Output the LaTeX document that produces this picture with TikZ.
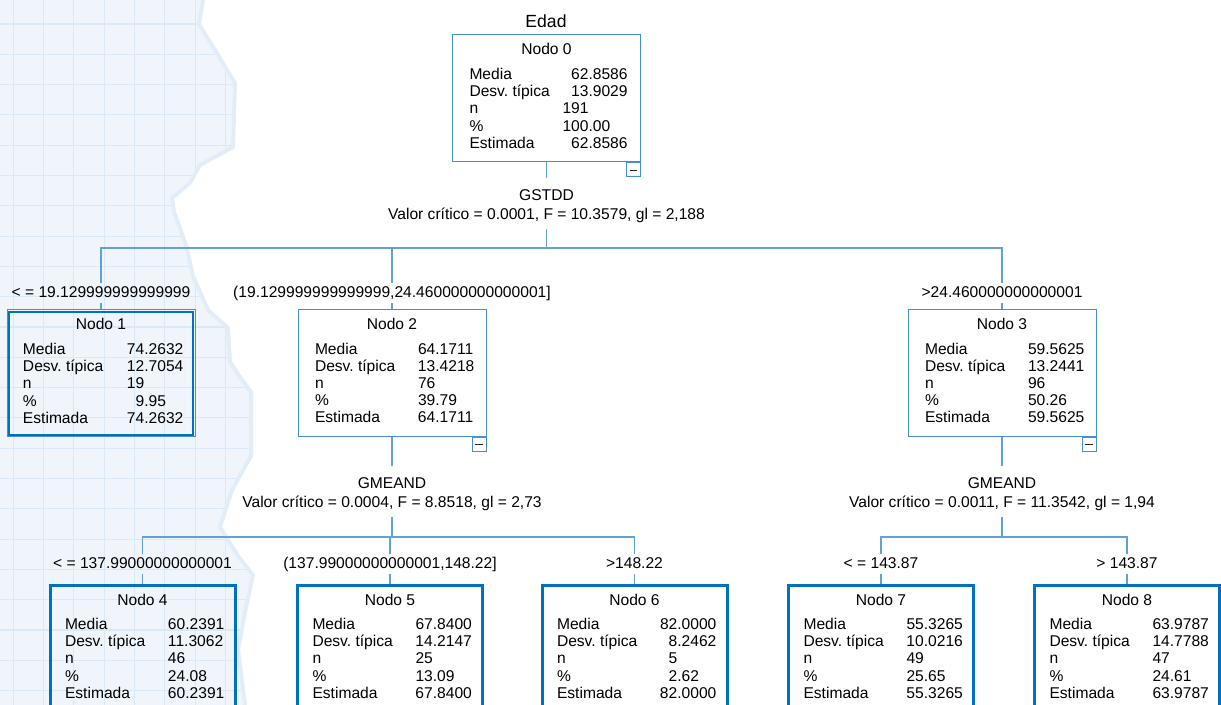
\documentclass[tikz,border=0pt]{standalone}
\usepackage{fontspec}
\setmainfont{Liberation Sans}
\definecolor{nodeblue}{RGB}{70,143,212}
\definecolor{leafblue}{RGB}{0,112,192}
\definecolor{linkblue}{RGB}{98,160,216}
\definecolor{paper}{RGB}{240,245,251}
\definecolor{gridblue}{RGB}{219,232,246}
\definecolor{edgeblue}{RGB}{227,237,248}
% box text: width, margin, title, value column, five values
\newcommand{\nodetext}[9]{\parbox[t][95.25pt][t]{#1}{%
  {\centering\rule{0pt}{15pt}#3\par}\vspace{5.5pt}%
  \noindent\hspace*{#2}\begin{tabular}[t]{@{}p{#4}@{}l@{}}
  Media & #5\\ Desv.\ típica & #6\\ n & #7\\ \% & #8\\ Estimada & #9
  \end{tabular}}}

\begin{document}
\begin{tikzpicture}[
  x=0.75pt,y=-0.75pt,
  font=\fontsize{11.7}{12.9}\selectfont,
  nodo/.style={draw=nodeblue,line width=0.75pt,anchor=north,inner sep=0pt},
  hoja/.style={draw=leafblue,line width=2.25pt,anchor=north,inner sep=0pt},
  minus/.style={draw=nodeblue,line width=0.75pt,anchor=north east,inner sep=0pt,
                minimum width=10.5pt,minimum height=10.5pt,
                path picture={\draw[line width=0.7pt,black!85]
                  ([xshift=2.5pt]path picture bounding box.west) --
                  ([xshift=-2.5pt]path picture bounding box.east);}},
  split/.style={anchor=north,align=center,inner sep=4.5pt},
  lbl/.style={anchor=base,inner xsep=1pt,inner ysep=2.5pt,text height=8.4pt,text depth=1pt},
  conn/.style={draw=linkblue,line width=1.1pt},
  tornedge/.style={insert path={-- (203,0) -- (199,24) -- (235,83) -- (233,147) -- (200,165)
    -- (190,183) -- (172,198) -- (174,212) -- (186,245) -- (193,276) -- (208,310)
    -- (228,328) -- (230,362) -- (240,377) -- (251,392) -- (251,456) -- (232,490)
    -- (220,527) -- (238,556) -- (253,575) -- (245,612) -- (238,650) -- (245,705)}}
]
\useasboundingbox (0,0) rectangle (1221,705);

% paper with grid on the left
\begin{scope}
  \clip (0,0) [tornedge] -- (0,705) -- cycle;
  \fill[paper] (0,0) rectangle (270,705);
  \foreach \i in {0,...,8}
    \draw[gridblue,line width=0.8pt] (13.3+30.3*\i,0) -- (13.3+30.3*\i,705);
  \foreach \j in {0,...,22}
    \draw[gridblue,line width=0.8pt] (0,24+30.3*\j) -- (270,24+30.3*\j);
\end{scope}
\draw[edgeblue,line width=3pt,line join=round] (203,0) [tornedge];

% root
\node[font=\fontsize{13.2}{15}\selectfont,anchor=base] (tit) at (546,28) {Edad};
\node[nodo] (n0) at (546.5,34.5) {\nodetext{141pt}{12.75pt}{Nodo 0}{69.75pt}%
  {\phantom{0}62.8586}{\phantom{0}13.9029}{191}{100.00}{\phantom{0}62.8586}};
\node[minus] (m0) at (n0.south east) {};
\node[split] (sp0) at (546.5,183.7) {GSTDD\\[1.35pt]Valor crítico = 0.0001, F = 10.3579, gl = 2,188};
\coordinate (b0) at (546.5,248);

% first split
\node[lbl] (e1) at (101,298) {< = 19.129999999999999};
\node[lbl] (e2) at (392,298) {(19.129999999999999,24.460000000000001]};
\node[lbl] (e3) at (1002,298) {>24.460000000000001};
\node[nodo] (n1) at (101,309.5) {\nodetext{141pt}{12pt}{Nodo 1}{78pt}%
  {74.2632}{12.7054}{19}{\phantom{0}9.95}{74.2632}};
\draw[leafblue,line width=1.5pt] ([shift={(2.5,2.5)}]n1.north west) rectangle ([shift={(-2.5,-2.5)}]n1.south east);
\node[nodo] (n2) at (392,309) {\nodetext{141pt}{12.75pt}{Nodo 2}{77.25pt}%
  {64.1711}{13.4218}{76}{39.79}{64.1711}};
\node[minus] (m2) at (n2.south east) {};
\node[nodo] (n3) at (1002,309) {\nodetext{141pt}{12.75pt}{Nodo 3}{77.25pt}%
  {59.5625}{13.2441}{96}{50.26}{59.5625}};
\node[minus] (m3) at (n3.south east) {};

\node[split] (sp2) at (392,471.7) {GMEAND\\[1.35pt]Valor crítico = 0.0004, F = 8.8518, gl = 2,73};
\node[split] (sp3) at (1002,471.7) {GMEAND\\[1.35pt]Valor crítico = 0.0011, F = 11.3542, gl = 1,94};
\coordinate (b2) at (392,537);
\coordinate (b3) at (1002,537);

% second split
\node[lbl] (e4) at (142.5,569) {< = 137.99000000000001};
\node[lbl] (e5) at (390,569) {(137.99000000000001,148.22]};
\node[lbl] (e6) at (634.5,569) {>148.22};
\node[lbl] (e7) at (881,569) {< = 143.87};
\node[lbl] (e8) at (1127,569) {> 143.87};
\node[hoja] (n4) at (142.5,583.5) {\nodetext{138.75pt}{11.25pt}{Nodo 4}{77.25pt}%
  {60.2391}{11.3062}{46}{24.08}{60.2391}};
\node[hoja] (n5) at (390,583.5) {\nodetext{138.75pt}{11.25pt}{Nodo 5}{77.25pt}%
  {67.8400}{14.2147}{25}{13.09}{67.8400}};
\node[hoja] (n6) at (634.5,583.5) {\nodetext{138.75pt}{11.25pt}{Nodo 6}{77.25pt}%
  {82.0000}{\phantom{0}8.2462}{\phantom{0}5}{\phantom{0}2.62}{82.0000}};
\node[hoja] (n7) at (881,583.5) {\nodetext{138.75pt}{11.25pt}{Nodo 7}{77.25pt}%
  {55.3265}{10.0216}{49}{25.65}{55.3265}};
\node[hoja] (n8) at (1127,583.5) {\nodetext{138.75pt}{11.25pt}{Nodo 8}{77.25pt}%
  {63.9787}{14.7788}{47}{24.61}{63.9787}};

% connectors
\draw[conn,shorten >=4.5pt] (n0.south) -- (sp0.north);
\draw[conn] (sp0.south) -- (b0);
\draw[conn] (e1.north) |- (b0) -| (e3.north);
\draw[conn] (e2.north) -- (e2.north |- b0);
\draw[conn] (e1.south) -- (e1.south |- n1.north);
\draw[conn] (e2.south) -- (e2.south |- n2.north);
\draw[conn] (e3.south) -- (e3.south |- n3.north);
\draw[conn,shorten >=4.5pt] (n2.south) -- (sp2.north);
\draw[conn,shorten >=4.5pt] (n3.south) -- (sp3.north);
\draw[conn] (sp2.south) -- (b2);
\draw[conn] (sp3.south) -- (b3);
\draw[conn] (e4.north) |- (b2) -| (e6.north);
\draw[conn] (e5.north) -- (e5.north |- b2);
\draw[conn] (e7.north) |- (b3) -| (e8.north);
\draw[conn] (e4.south) -- (e4.south |- n4.north);
\draw[conn] (e5.south) -- (e5.south |- n5.north);
\draw[conn] (e6.south) -- (e6.south |- n6.north);
\draw[conn] (e7.south) -- (e7.south |- n7.north);
\draw[conn] (e8.south) -- (e8.south |- n8.north);
\end{tikzpicture}
\end{document}
